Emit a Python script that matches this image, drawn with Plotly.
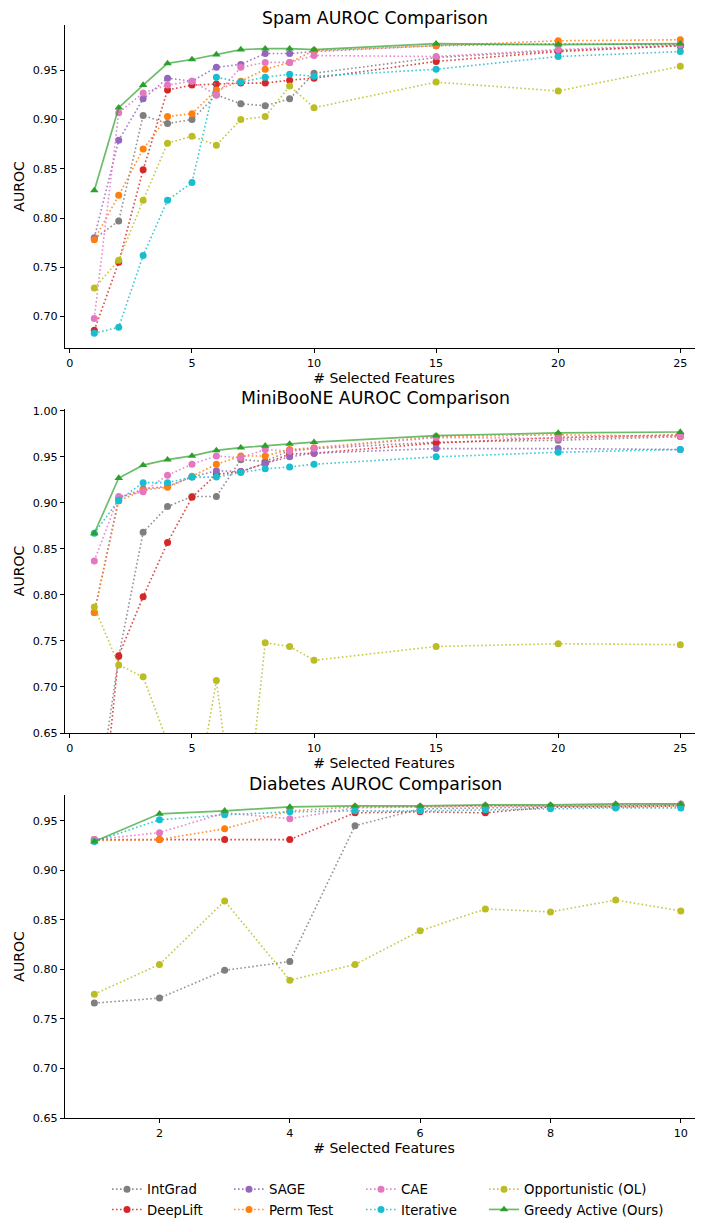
import plotly.graph_objects as go

methods = ["IntGrad", "DeepLift", "SAGE", "Perm Test", "CAE", "Iterative",
           "Opportunistic (OL)", "Greedy Active (Ours)"]
colors = ["#7f7f7f", "#d62728", "#9467bd", "#ff7f0e", "#e377c2", "#17becf",
          "#bcbd22", "#2ca02c"]

# ---- Spam ----
spam_x = [1, 2, 3, 4, 5, 6, 7, 8, 9, 10, 15, 20, 25]
spam_intgrad = [0.779, 0.797, 0.904, 0.896, 0.900, 0.925, 0.916, 0.914, 0.921, 0.947, 0.963, 0.970, 0.975]
spam_deeplift = [0.686, 0.755, 0.849, 0.930, 0.935, 0.936, 0.937, 0.937, 0.940, 0.942, 0.959, 0.969, 0.975]
spam_sage = [0.780, 0.879, 0.921, 0.942, 0.939, 0.953, 0.956, 0.967, 0.967, 0.969, 0.975, 0.977, 0.976]
spam_perm = [0.778, 0.823, 0.870, 0.903, 0.906, 0.930, 0.939, 0.951, 0.958, 0.970, 0.975, 0.980, 0.981]
spam_cae = [0.698, 0.907, 0.927, 0.935, 0.939, 0.925, 0.953, 0.958, 0.958, 0.965, 0.964, 0.971, 0.976]
spam_iter = [0.683, 0.689, 0.762, 0.818, 0.836, 0.943, 0.938, 0.943, 0.946, 0.944, 0.951, 0.964, 0.969]
spam_ol = [0.729, 0.757, 0.818, 0.876, 0.883, 0.874, 0.900, 0.903, 0.934, 0.912, 0.938, 0.929, 0.954]
spam_greedy = [0.828, 0.912, 0.935, 0.957, 0.961, 0.966, 0.971, 0.972, 0.972, 0.971, 0.977, 0.976, 0.977]

# ---- MiniBooNE ----
mini_x = [1, 2, 3, 4, 5, 6, 7, 8, 9, 10, 15, 20, 25]
mini_intgrad = [0.550, 0.733, 0.868, 0.896, 0.907, 0.907, 0.947, 0.945, 0.957, 0.959, 0.966, 0.968, 0.972]
mini_deeplift = [0.482, 0.734, 0.798, 0.857, 0.906, 0.931, 0.934, 0.943, 0.953, 0.954, 0.965, 0.971, 0.974]
mini_sage = [0.781, 0.905, 0.915, 0.918, 0.928, 0.935, 0.934, 0.943, 0.950, 0.954, 0.959, 0.959, 0.958]
mini_perm = [0.781, 0.902, 0.914, 0.917, 0.929, 0.942, 0.951, 0.951, 0.958, 0.960, 0.972, 0.974, 0.972]
mini_cae = [0.837, 0.907, 0.912, 0.930, 0.942, 0.951, 0.949, 0.958, 0.956, 0.959, 0.971, 0.970, 0.973]
mini_iter = [0.867, 0.903, 0.922, 0.922, 0.928, 0.928, 0.933, 0.937, 0.939, 0.942, 0.950, 0.955, 0.958]
mini_ol = [0.787, 0.724, 0.711, 0.640, 0.554, 0.707, 0.500, 0.748, 0.744, 0.729, 0.744, 0.747, 0.746]
mini_greedy = [0.867, 0.927, 0.941, 0.947, 0.951, 0.957, 0.960, 0.962, 0.964, 0.966, 0.973, 0.976, 0.977]

# ---- Diabetes ----
diab_x = [1, 2, 3, 4, 5, 6, 7, 8, 9, 10]
diab_intgrad = [0.766, 0.771, 0.799, 0.808, 0.945, 0.962, 0.963, 0.964, 0.965, 0.966]
diab_deeplift = [0.931, 0.931, 0.931, 0.931, 0.958, 0.959, 0.958, 0.964, 0.964, 0.965]
diab_perm = [0.930, 0.931, 0.942, 0.960, 0.964, 0.964, 0.965, 0.965, 0.965, 0.965]
diab_cae = [0.931, 0.938, 0.958, 0.952, 0.963, 0.964, 0.965, 0.965, 0.966, 0.967]
diab_iter = [0.929, 0.951, 0.956, 0.959, 0.960, 0.960, 0.961, 0.962, 0.963, 0.963]
diab_ol = [0.775, 0.805, 0.869, 0.789, 0.805, 0.839, 0.861, 0.858, 0.870, 0.859]
diab_greedy = [0.929, 0.957, 0.960, 0.964, 0.965, 0.965, 0.966, 0.966, 0.967, 0.967]

panels = [
    ("Spam AUROC Comparison", spam_x,
     [spam_intgrad, spam_deeplift, spam_sage, spam_perm, spam_cae, spam_iter, spam_ol, spam_greedy]),
    ("MiniBooNE AUROC Comparison", mini_x,
     [mini_intgrad, mini_deeplift, mini_sage, mini_perm, mini_cae, mini_iter, mini_ol, mini_greedy]),
    ("Diabetes AUROC Comparison", diab_x,
     [diab_intgrad, diab_deeplift, None, diab_perm, diab_cae, diab_iter, diab_ol, diab_greedy]),
]

# The page body has an 8px margin, so the figure is 8px smaller than the window
OFF = 8
W, H = 703 - OFF, 1221 - OFF
FONT = "DejaVu Sans"
PLOT_L = 65 - OFF
PLOT_W = W - PLOT_L

def py(page_y):
    """page pixel y -> paper fraction"""
    return 1 - (page_y - OFF) / H

def px(page_x):
    """page pixel x -> paper fraction"""
    return (page_x - OFF - PLOT_L) / PLOT_W

def hexa(c, a):
    c = c.lstrip("#")
    return "rgba(%d,%d,%d,%.2f)" % (int(c[0:2], 16), int(c[2:4], 16), int(c[4:6], 16), a)

fig = go.Figure()

# page-pixel geometry of axes (top, bottom) and title centre y
boxes = [(25, 348), (409, 733), (795, 1118)]
title_y = [18, 398, 784]
# legend column for each method (matplotlib ncol=4 column-major layout)
legend_col = {0: "legend", 1: "legend", 2: "legend2", 3: "legend2",
              4: "legend3", 5: "legend3", 6: "legend4", 7: "legend4"}

for p, (title, xs, series) in enumerate(panels):
    xa = "x" if p == 0 else "x%d" % (p + 1)
    ya = "y" if p == 0 else "y%d" % (p + 1)
    for i, vals in enumerate(series):
        if vals is None:
            continue
        greedy = i == 7
        fig.add_trace(go.Scatter(
            x=xs, y=vals, xaxis=xa, yaxis=ya,
            name=methods[i], legendgroup=methods[i], showlegend=(p == 0),
            legend=legend_col[i],
            mode="lines+markers",
            line=dict(color=hexa(colors[i], 0.7 if greedy else 0.85),
                      width=1.7 if greedy else 1.6,
                      dash="solid" if greedy else "1.6px,2.4px"),
            marker=dict(color=colors[i], size=7.5 if greedy else 7,
                        symbol="triangle-up" if greedy else "circle",
                        line=dict(width=0)),
            cliponaxis=True,
        ))

axis_common = dict(showline=True, linecolor="black", linewidth=1.2, ticks="outside",
                   ticklen=4, tickcolor="black", showgrid=False, zeroline=False,
                   automargin=False,
                   tickfont=dict(family=FONT, size=11.2, color="black"), mirror=False)

def leg(text_x):
    return dict(orientation="v", x=px(text_x - 40), xanchor="left",
                y=py(1174), yanchor="top",
                font=dict(family=FONT, size=13.3, color="black"),
                itemwidth=30, tracegroupgap=0, bgcolor="rgba(0,0,0,0)")

layout = dict(
    width=W, height=H, plot_bgcolor="white", paper_bgcolor="white",
    margin=dict(l=PLOT_L, r=0, t=0, b=0, autoexpand=False),
    font=dict(family=FONT, color="black"),
    showlegend=True,
    legend=leg(147), legend2=leg(269), legend3=leg(401), legend4=leg(524),
)

xranges = [[-0.2, 25.93], [-0.2, 25.93], [0.55, 10.34]]
yranges = [[0.668, 0.996], [0.65, 1.002], [0.65, 0.976]]
xticks = [[0, 5, 10, 15, 20, 25], [0, 5, 10, 15, 20, 25], [2, 4, 6, 8, 10]]
yticks = [[0.70, 0.75, 0.80, 0.85, 0.90, 0.95],
          [0.65, 0.70, 0.75, 0.80, 0.85, 0.90, 0.95, 1.00],
          [0.65, 0.70, 0.75, 0.80, 0.85, 0.90, 0.95]]

annotations = []
for p, (title, xs, series) in enumerate(panels):
    top, bot = boxes[p]
    suffix = "" if p == 0 else str(p + 1)
    layout["xaxis" + suffix] = dict(axis_common, range=xranges[p], domain=[0, 1],
                                    anchor="y" + suffix, tickvals=xticks[p],
                                    title=dict(text="# Selected Features",
                                               font=dict(family=FONT, size=14), standoff=2))
    layout["yaxis" + suffix] = dict(axis_common, range=yranges[p],
                                    domain=[py(bot), py(top)],
                                    anchor="x" + suffix, tickvals=yticks[p],
                                    tickformat=".2f",
                                    title=dict(text="AUROC", font=dict(family=FONT, size=14),
                                               standoff=4))
    annotations.append(dict(text=title, xref="paper", yref="paper",
                            x=px(375), y=py(title_y[p]),
                            xanchor="center", yanchor="middle", showarrow=False,
                            font=dict(family=FONT, size=17.3, color="black")))
layout["annotations"] = annotations
fig.update_layout(**layout)
fig.write_html("out.html")
